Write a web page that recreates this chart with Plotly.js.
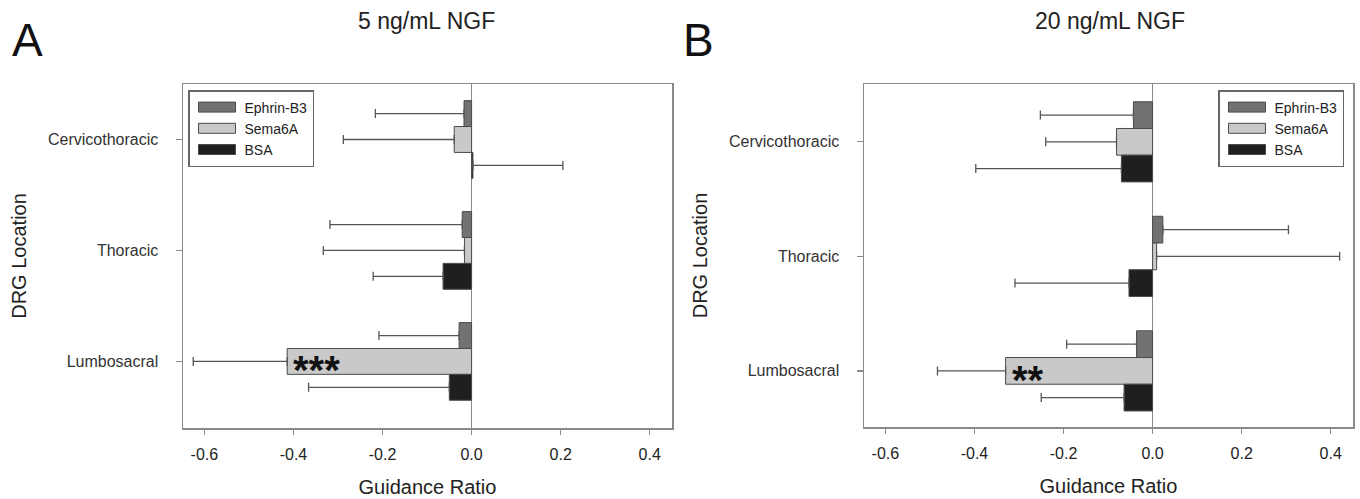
<!DOCTYPE html>
<html>
<head>
<meta charset="utf-8">
<script src="https://cdn.plot.ly/plotly-3.0.1.min.js"></script>
<style>html,body{margin:0;padding:0;background:#fff;}</style>
</head>
<body>
<div id="chart" style="width:1360px;height:499px;"></div>
<script>
// ---------- data ----------
const categories = ['Cervicothoracic', 'Thoracic', 'Lumbosacral'];
const seriesNames = ['Ephrin-B3', 'Sema6A', 'BSA'];

// Panel A: 5 ng/mL NGF
const ephrinB3_5ng = [-0.017, -0.021, -0.028];
const ephrinB3_5ng_err = [0.199, 0.297, 0.180];
const sema6A_5ng = [-0.039, -0.016, -0.414];
const sema6A_5ng_err = [0.249, 0.317, 0.211];
const bsa_5ng = [0.003, -0.064, -0.050];
const bsa_5ng_err = [0.202, 0.157, 0.316];

// Panel B: 20 ng/mL NGF
const ephrinB3_20ng = [-0.043, 0.023, -0.036];
const ephrinB3_20ng_err = [0.209, 0.282, 0.157];
const sema6A_20ng = [-0.081, 0.009, -0.330];
const sema6A_20ng_err = [0.159, 0.411, 0.153];
const bsa_20ng = [-0.070, -0.053, -0.064];
const bsa_20ng_err = [0.327, 0.256, 0.186];

const tickVals = [-0.6, -0.4, -0.2, 0.0, 0.2, 0.4];
const tickText = ['-0.6', '-0.4', '-0.2', '0.0', '0.2', '0.4'];
const panelTitles = ['5 ng/mL NGF', '20 ng/mL NGF'];
const panelLetters = ['A', 'B'];
const sigA = '***';
const sigB = '**';

// ---------- styling ----------
const FONT = 'Liberation Sans, Arial, sans-serif';
const colors = ['#727272', '#c9c9c9', '#1f1f1f'];
const edge = '#4a4a4a';
const axisGray = '#8a8a8a';

function mkTrace(name, vals, errs, color, xa, ya, legendId, show) {
  return {
    type: 'bar', orientation: 'h',
    name: name, x: vals, y: categories,
    xaxis: xa, yaxis: ya, legend: legendId, showlegend: show,
    marker: {color: color, line: {color: edge, width: 1}},
    error_x: {
      type: 'data', symmetric: false,
      array: vals.map((v, i) => v >= 0 ? errs[i] : 0),
      arrayminus: vals.map((v, i) => v < 0 ? errs[i] : 0),
      color: '#555555', thickness: 1.3, width: 4.5
    },
    hoverinfo: 'x+name'
  };
}

const data = [
  mkTrace(seriesNames[0], ephrinB3_5ng, ephrinB3_5ng_err, colors[0], 'x', 'y', 'legend', true),
  mkTrace(seriesNames[1], sema6A_5ng, sema6A_5ng_err, colors[1], 'x', 'y', 'legend', true),
  mkTrace(seriesNames[2], bsa_5ng, bsa_5ng_err, colors[2], 'x', 'y', 'legend', true),
  mkTrace(seriesNames[0], ephrinB3_20ng, ephrinB3_20ng_err, colors[0], 'x2', 'y2', 'legend2', true),
  mkTrace(seriesNames[1], sema6A_20ng, sema6A_20ng_err, colors[1], 'x2', 'y2', 'legend2', true),
  mkTrace(seriesNames[2], bsa_20ng, bsa_20ng_err, colors[2], 'x2', 'y2', 'legend2', true)
];

const W = 1360, H = 499;
function xaxisCfg(domain, anchor) {
  return {
    domain: domain, anchor: anchor, range: [-0.648, 0.45],
    tickvals: tickVals, ticktext: tickText,
    ticks: 'outside', ticklen: 5, tickwidth: 1.3, tickcolor: axisGray,
    showline: true, mirror: true, linecolor: axisGray, linewidth: 1.5,
    showgrid: false, zeroline: true, zerolinecolor: axisGray, zerolinewidth: 1.3,
    ticklabelstandoff: 6,
    tickfont: {family: FONT, size: 16, color: '#222'},
    title: {text: 'Guidance Ratio', font: {family: FONT, size: 20, color: '#222'}, standoff: 18},
    fixedrange: true
  };
}
function yaxisCfg(domain, anchor, range) {
  return {
    domain: domain, anchor: anchor, type: 'category',
    categoryorder: 'array', categoryarray: categories,
    range: range,
    ticks: 'outside', ticklen: 6, tickwidth: 1.3, tickcolor: axisGray,
    showline: true, mirror: true, linecolor: axisGray, linewidth: 1.5,
    showgrid: false, zeroline: false,
    ticklabelstandoff: 14,
    tickfont: {family: FONT, size: 16, color: '#333'},
    title: {text: 'DRG Location', font: {family: FONT, size: 20, color: '#222'}, standoff: 16},
    fixedrange: true
  };
}

const legendCommon = {
  xanchor: 'left', yanchor: 'top',
  bgcolor: '#ffffff', bordercolor: '#666666', borderwidth: 1.5,
  font: {family: FONT, size: 14, color: '#222'},
  itemwidth: 45, traceorder: 'normal', tracegroupgap: 0
};

const layout = {
  width: W, height: H,
  margin: {l: 0, r: 0, t: 0, b: 0},
  paper_bgcolor: '#ffffff', plot_bgcolor: '#ffffff',
  barmode: 'group', bargap: 0.3, bargroupgap: 0,
  font: {family: FONT, color: '#222'},
  xaxis: xaxisCfg([183 / W, 672 / W], 'y'),
  yaxis: yaxisCfg([1 - 428 / H, 1 - 84 / H], 'x', [2.6, -0.5]),
  xaxis2: xaxisCfg([864 / W, 1353 / W], 'y2'),
  yaxis2: yaxisCfg([1 - 427 / H, 1 - 84 / H], 'x2', [2.49, -0.505]),
  legend: Object.assign({x: 188 / W, y: 1 - 90 / H}, legendCommon),
  legend2: Object.assign({x: 1218 / W, y: 1 - 90 / H}, legendCommon),
  annotations: [
    {text: panelTitles[0], xref: 'paper', yref: 'paper', x: 426 / W, y: 1 - 21 / H,
     xanchor: 'center', yanchor: 'middle', showarrow: false, font: {family: FONT, size: 23, color: '#222'}},
    {text: panelTitles[1], xref: 'paper', yref: 'paper', x: 1110 / W, y: 1 - 21 / H,
     xanchor: 'center', yanchor: 'middle', showarrow: false, font: {family: FONT, size: 23, color: '#222'}},
    {text: panelLetters[0], xref: 'paper', yref: 'paper', x: 27 / W, y: 1 - 40 / H,
     xanchor: 'center', yanchor: 'middle', showarrow: false, font: {family: FONT, size: 46, color: '#111'}},
    {text: panelLetters[1], xref: 'paper', yref: 'paper', x: 699 / W, y: 1 - 40 / H,
     xanchor: 'center', yanchor: 'middle', showarrow: false, font: {family: FONT, size: 46, color: '#111'}},
    {text: sigA, xref: 'x', yref: 'y', x: sema6A_5ng[2], y: categories[2],
     xanchor: 'left', yanchor: 'middle', xshift: 4, yshift: -9, showarrow: false,
     font: {family: FONT, size: 40, color: '#111', weight: 'bold'}},
    {text: sigB, xref: 'x2', yref: 'y2', x: sema6A_20ng[2], y: categories[2],
     xanchor: 'left', yanchor: 'middle', xshift: 4, yshift: -9, showarrow: false,
     font: {family: FONT, size: 40, color: '#111', weight: 'bold'}}
  ]
};

Plotly.newPlot('chart', data, layout, {displayModeBar: false, staticPlot: true}).then(function (gd) {
  // widen legend swatches (both legends) to match the original's flat rectangles
  gd.querySelectorAll('.legendpoints path').forEach(function (p) {
    p.setAttribute('d', 'M18.5,5H-18.5V-5H18.5Z');
  });
});
</script>
</body>
</html>
